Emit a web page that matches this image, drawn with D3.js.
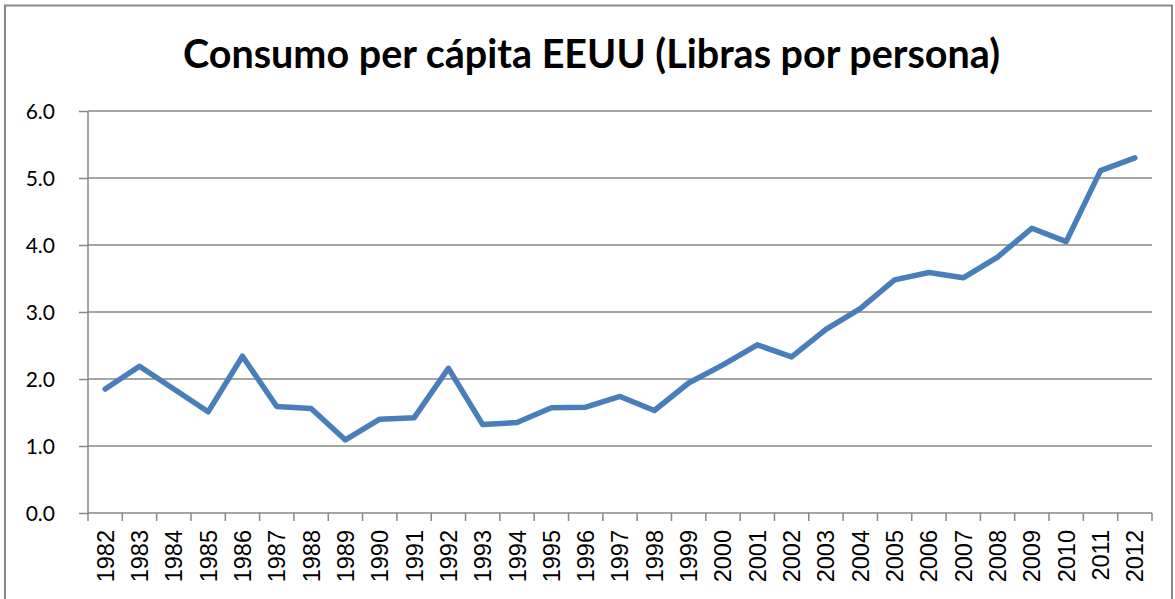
<!DOCTYPE html>
<html>
<head>
<meta charset="utf-8">
<script src="https://cdn.jsdelivr.net/npm/d3@7"></script>
<style>
  html, body { margin: 0; padding: 0; background: #fff; }
  svg { display: block; }
</style>
</head>
<body>
<svg id="chart" width="1175" height="599"></svg>
<script>
const titleText = "Consumo per cápita EEUU (Libras por persona)";
const years = ["1982","1983","1984","1985","1986","1987","1988","1989","1990","1991",
               "1992","1993","1994","1995","1996","1997","1998","1999","2000","2001",
               "2002","2003","2004","2005","2006","2007","2008","2009","2010","2011","2012"];
const values = [1.85, 2.19, 1.85, 1.51, 2.34, 1.59, 1.56, 1.09, 1.40, 1.42,
                2.16, 1.32, 1.35, 1.57, 1.58, 1.74, 1.53, 1.94, 2.21, 2.51,
                2.33, 2.74, 3.05, 3.48, 3.59, 3.51, 3.82, 4.25, 4.05, 5.11, 5.30];
const yTicks = [0, 1, 2, 3, 4, 5, 6];

const svg = d3.select("#chart");
const W = 1175, H = 599;
const plot = { left: 88, right: 1152, top: 111, bottom: 513 };
const gridColor = "#878787";

// outer border
svg.append("rect")
  .attr("x", 5).attr("y", 5.5)
  .attr("width", 1167).attr("height", 600)
  .attr("fill", "#fff").attr("stroke", gridColor).attr("stroke-width", 2);

const x = d3.scaleBand().domain(years).range([plot.left, plot.right]).padding(0);
const y = d3.scaleLinear().domain([0, 6]).range([plot.bottom, plot.top]);

// gridlines + y axis
const yAxis = d3.axisLeft(y).tickValues(yTicks).tickSize(9).tickFormat(d3.format(".1f"));
const gy = svg.append("g").attr("transform", `translate(${plot.left},0)`).call(yAxis);
gy.select(".domain").remove();
gy.selectAll(".tick line").attr("stroke", gridColor).attr("stroke-width", 1.5);
gy.selectAll(".tick text")
  .attr("x", -33).attr("dy", "0.35em")
  .attr("font-family", "Lato, 'Open Sans', sans-serif")
  .attr("font-size", 21).attr("fill", "#000");
svg.append("g").selectAll("line.grid").data(yTicks).join("line")
  .attr("x1", plot.left).attr("x2", plot.right)
  .attr("y1", d => y(d)).attr("y2", d => y(d))
  .attr("stroke", gridColor).attr("stroke-width", 1.5);
// y axis line
svg.append("line")
  .attr("x1", plot.left).attr("x2", plot.left)
  .attr("y1", y(6)).attr("y2", plot.bottom)
  .attr("stroke", gridColor).attr("stroke-width", 1.5);

// x axis ticks at category boundaries
const bounds = years.map(d => x(d)).concat([x(years[years.length - 1]) + x.bandwidth()]);
svg.append("g").selectAll("line").data(bounds).join("line")
  .attr("x1", d => d).attr("x2", d => d)
  .attr("y1", plot.bottom).attr("y2", plot.bottom + 8)
  .attr("stroke", gridColor).attr("stroke-width", 1.5);

// x labels
const xAxis = d3.axisBottom(x).tickSize(0);
const gx = svg.append("g").attr("transform", `translate(0,${plot.bottom})`).call(xAxis);
gx.select(".domain").remove();
gx.selectAll(".tick text")
  .attr("transform", "rotate(-90)")
  .attr("x", -17).attr("y", 0).attr("dy", "0.36em")
  .attr("text-anchor", "end")
  .attr("font-family", "'Liberation Sans', Arial, sans-serif")
  .attr("font-size", 23.5).attr("fill", "#000");

// line
const line = d3.line()
  .x((d, i) => x(years[i]) + x.bandwidth() / 2)
  .y(d => y(d));
svg.append("path")
  .datum(values)
  .attr("d", line)
  .attr("fill", "none")
  .attr("stroke", "#4a7ebb")
  .attr("stroke-width", 5.5)
  .attr("stroke-linejoin", "round")
  .attr("stroke-linecap", "round");

// title
const title = svg.append("text")
  .attr("x", 591.5).attr("y", 68)
  .attr("text-anchor", "middle")
  .attr("font-family", "Lato, 'Open Sans', sans-serif")
  .attr("font-weight", "bold")
  .attr("font-size", 40)
  .attr("fill", "#000")
  .text(titleText);
const tw = title.node().getComputedTextLength();
if (tw > 0) title.attr("font-size", 40 * 817 / tw);
</script>
</body>
</html>
